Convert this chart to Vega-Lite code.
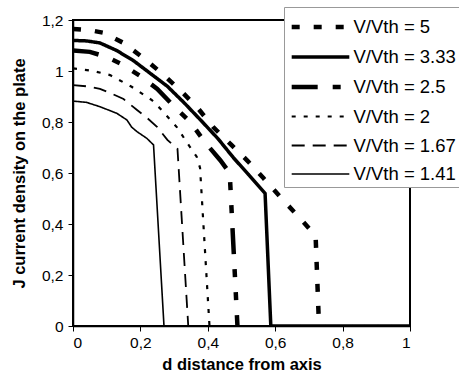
{
  "$schema": "https://vega.github.io/schema/vega-lite/v6.json",
  "autosize": {"type": "none"},
  "padding": {"left": 73, "top": 20, "right": 49, "bottom": 55},
  "width": 337,
  "height": 306,
  "background": "white",
  "config": {
    "font": "Liberation Sans",
    "view": {"stroke": "black", "strokeWidth": 2},
    "axis": {
      "grid": false,
      "domainColor": "black",
      "domainWidth": 1.5,
      "tickColor": "black",
      "tickWidth": 1,
      "tickSize": 5,
      "labelFont": "Liberation Sans",
      "labelFontSize": 15.5,
      "labelColor": "black",
      "titleFont": "Liberation Sans",
      "titleFontSize": 16.5,
      "titleFontWeight": "bold",
      "titleColor": "black"
    }
  },
  "data": {
    "values": [
      {"s": "V/Vth = 5", "o": 1, "x": 0, "y": 1.165},
      {"s": "V/Vth = 5", "o": 2, "x": 0.05, "y": 1.16},
      {"s": "V/Vth = 5", "o": 3, "x": 0.09, "y": 1.15},
      {"s": "V/Vth = 5", "o": 4, "x": 0.15, "y": 1.11},
      {"s": "V/Vth = 5", "o": 5, "x": 0.21, "y": 1.05},
      {"s": "V/Vth = 5", "o": 6, "x": 0.26, "y": 0.995},
      {"s": "V/Vth = 5", "o": 7, "x": 0.318, "y": 0.925},
      {"s": "V/Vth = 5", "o": 8, "x": 0.37, "y": 0.855},
      {"s": "V/Vth = 5", "o": 9, "x": 0.416, "y": 0.78},
      {"s": "V/Vth = 5", "o": 10, "x": 0.47, "y": 0.71},
      {"s": "V/Vth = 5", "o": 11, "x": 0.52, "y": 0.645},
      {"s": "V/Vth = 5", "o": 12, "x": 0.565, "y": 0.58},
      {"s": "V/Vth = 5", "o": 13, "x": 0.615, "y": 0.506},
      {"s": "V/Vth = 5", "o": 14, "x": 0.665, "y": 0.435},
      {"s": "V/Vth = 5", "o": 15, "x": 0.713, "y": 0.364},
      {"s": "V/Vth = 5", "o": 16, "x": 0.72, "y": 0.35},
      {"s": "V/Vth = 5", "o": 17, "x": 0.73, "y": 0},
      {"s": "V/Vth = 3.33", "o": 1, "x": 0, "y": 1.12},
      {"s": "V/Vth = 3.33", "o": 2, "x": 0.04, "y": 1.118},
      {"s": "V/Vth = 3.33", "o": 3, "x": 0.08, "y": 1.11},
      {"s": "V/Vth = 3.33", "o": 4, "x": 0.13, "y": 1.08},
      {"s": "V/Vth = 3.33", "o": 5, "x": 0.18, "y": 1.04},
      {"s": "V/Vth = 3.33", "o": 6, "x": 0.23, "y": 0.99},
      {"s": "V/Vth = 3.33", "o": 7, "x": 0.28, "y": 0.94},
      {"s": "V/Vth = 3.33", "o": 8, "x": 0.33, "y": 0.875},
      {"s": "V/Vth = 3.33", "o": 9, "x": 0.377, "y": 0.81},
      {"s": "V/Vth = 3.33", "o": 10, "x": 0.43, "y": 0.735},
      {"s": "V/Vth = 3.33", "o": 11, "x": 0.476, "y": 0.66},
      {"s": "V/Vth = 3.33", "o": 12, "x": 0.52, "y": 0.595},
      {"s": "V/Vth = 3.33", "o": 13, "x": 0.57, "y": 0.52},
      {"s": "V/Vth = 3.33", "o": 14, "x": 0.587, "y": 0},
      {"s": "V/Vth = 3.33", "o": 15, "x": 1, "y": 0},
      {"s": "V/Vth = 2.5", "o": 1, "x": 0, "y": 1.08},
      {"s": "V/Vth = 2.5", "o": 2, "x": 0.05, "y": 1.075},
      {"s": "V/Vth = 2.5", "o": 3, "x": 0.1, "y": 1.055},
      {"s": "V/Vth = 2.5", "o": 4, "x": 0.14, "y": 1.03},
      {"s": "V/Vth = 2.5", "o": 5, "x": 0.2, "y": 0.98},
      {"s": "V/Vth = 2.5", "o": 6, "x": 0.25, "y": 0.93},
      {"s": "V/Vth = 2.5", "o": 7, "x": 0.297, "y": 0.865},
      {"s": "V/Vth = 2.5", "o": 8, "x": 0.348, "y": 0.8},
      {"s": "V/Vth = 2.5", "o": 9, "x": 0.392, "y": 0.72},
      {"s": "V/Vth = 2.5", "o": 10, "x": 0.437, "y": 0.65},
      {"s": "V/Vth = 2.5", "o": 11, "x": 0.465, "y": 0.6},
      {"s": "V/Vth = 2.5", "o": 12, "x": 0.488, "y": 0},
      {"s": "V/Vth = 2", "o": 1, "x": 0, "y": 1.01},
      {"s": "V/Vth = 2", "o": 2, "x": 0.06, "y": 1.0},
      {"s": "V/Vth = 2", "o": 3, "x": 0.11, "y": 0.984},
      {"s": "V/Vth = 2", "o": 4, "x": 0.174, "y": 0.938},
      {"s": "V/Vth = 2", "o": 5, "x": 0.234, "y": 0.886},
      {"s": "V/Vth = 2", "o": 6, "x": 0.263, "y": 0.847},
      {"s": "V/Vth = 2", "o": 7, "x": 0.308, "y": 0.78},
      {"s": "V/Vth = 2", "o": 8, "x": 0.348, "y": 0.7},
      {"s": "V/Vth = 2", "o": 9, "x": 0.367, "y": 0.664},
      {"s": "V/Vth = 2", "o": 10, "x": 0.377, "y": 0.62},
      {"s": "V/Vth = 2", "o": 11, "x": 0.405, "y": 0},
      {"s": "V/Vth = 1.67", "o": 1, "x": 0, "y": 0.945},
      {"s": "V/Vth = 1.67", "o": 2, "x": 0.04, "y": 0.94},
      {"s": "V/Vth = 1.67", "o": 3, "x": 0.08, "y": 0.93},
      {"s": "V/Vth = 1.67", "o": 4, "x": 0.11, "y": 0.914},
      {"s": "V/Vth = 1.67", "o": 5, "x": 0.15, "y": 0.89},
      {"s": "V/Vth = 1.67", "o": 6, "x": 0.19, "y": 0.847},
      {"s": "V/Vth = 1.67", "o": 7, "x": 0.22, "y": 0.816},
      {"s": "V/Vth = 1.67", "o": 8, "x": 0.25, "y": 0.78},
      {"s": "V/Vth = 1.67", "o": 9, "x": 0.28, "y": 0.73},
      {"s": "V/Vth = 1.67", "o": 10, "x": 0.31, "y": 0.695},
      {"s": "V/Vth = 1.67", "o": 11, "x": 0.342, "y": 0},
      {"s": "V/Vth = 1.41", "o": 1, "x": 0, "y": 0.882},
      {"s": "V/Vth = 1.41", "o": 2, "x": 0.04, "y": 0.877},
      {"s": "V/Vth = 1.41", "o": 3, "x": 0.08, "y": 0.86},
      {"s": "V/Vth = 1.41", "o": 4, "x": 0.13, "y": 0.834},
      {"s": "V/Vth = 1.41", "o": 5, "x": 0.16, "y": 0.808},
      {"s": "V/Vth = 1.41", "o": 6, "x": 0.174, "y": 0.78},
      {"s": "V/Vth = 1.41", "o": 7, "x": 0.19, "y": 0.762},
      {"s": "V/Vth = 1.41", "o": 8, "x": 0.219, "y": 0.736},
      {"s": "V/Vth = 1.41", "o": 9, "x": 0.239, "y": 0.71},
      {"s": "V/Vth = 1.41", "o": 10, "x": 0.27, "y": 0}
    ]
  },
  "mark": {"type": "line", "clip": true},
  "encoding": {
    "x": {
      "field": "x", "type": "quantitative",
      "scale": {"domain": [0, 1], "nice": false},
      "axis": {"values": [0, 0.2, 0.4, 0.6, 0.8, 1], "title": "d distance from axis", "titlePadding": 6, "labelPadding": 4,
               "labelExpr": "replace(format(datum.value, '~g'), '.', ',')"}
    },
    "y": {
      "field": "y", "type": "quantitative",
      "scale": {"domain": [0, 1.2], "nice": false},
      "axis": {"values": [0, 0.2, 0.4, 0.6, 0.8, 1, 1.2], "title": "J current density on the plate", "titlePadding": 14, "labelPadding": 5,
               "labelExpr": "replace(format(datum.value, '~g'), '.', ',')"}
    },
    "order": {"field": "o", "type": "quantitative"},
    "color": {
      "field": "s", "type": "nominal",
      "scale": {"domain": ["V/Vth = 5", "V/Vth = 3.33", "V/Vth = 2.5", "V/Vth = 2", "V/Vth = 1.67", "V/Vth = 1.41"],
                "range": ["black", "black", "black", "black", "black", "black"]},
      "legend": {
        "title": null, "orient": "none", "legendX": 211, "legendY": -13,
        "symbolType": "M-2,0H2", "symbolSize": 830, "symbolOffset": 16.5,
        "labelFontSize": 18.5, "labelFont": "Liberation Sans", "labelColor": "black",
        "strokeColor": "#999999", "fillColor": "white", "padding": 3, "rowPadding": 3.5, "labelOffset": 16
      }
    },
    "strokeDash": {
      "field": "s", "type": "nominal",
      "scale": {"domain": ["V/Vth = 5", "V/Vth = 3.33", "V/Vth = 2.5", "V/Vth = 2", "V/Vth = 1.67", "V/Vth = 1.41"],
                "range": [[8, 14], [1, 0], [26, 15, 8, 15, 8, 15], [4, 8], [13, 8], [1, 0]]},
      "legend": null
    },
    "strokeWidth": {
      "field": "s", "type": "nominal",
      "scale": {"type": "ordinal", "domain": ["V/Vth = 5", "V/Vth = 3.33", "V/Vth = 2.5", "V/Vth = 2", "V/Vth = 1.67", "V/Vth = 1.41"],
                "range": [4.5, 3.5, 4.5, 2.2, 1.8, 1.6]},
      "legend": null
    }
  }
}
